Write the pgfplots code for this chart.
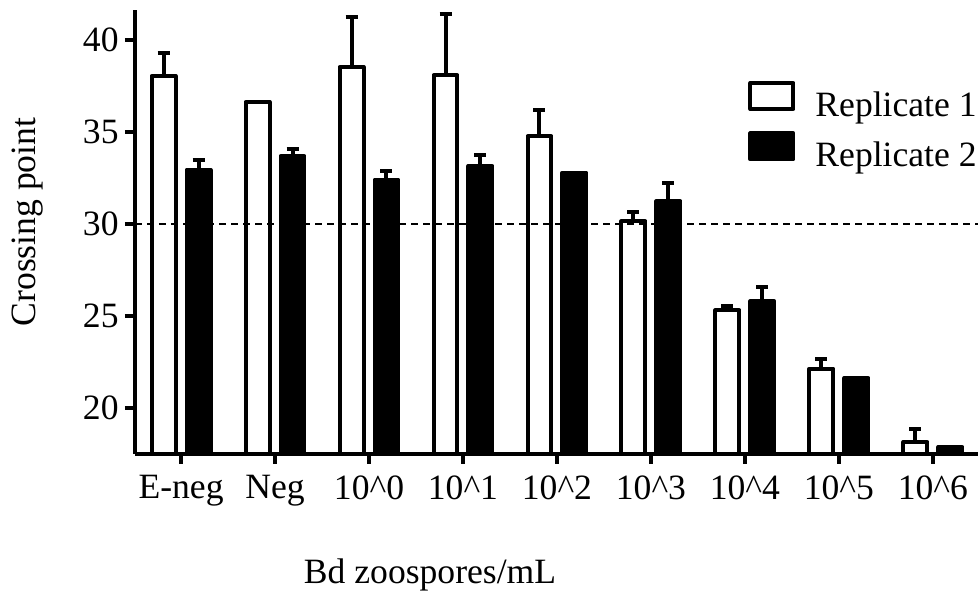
\documentclass[border=0pt]{standalone}
\usepackage{pgfplots}
\pgfplotsset{compat=1.18}
\usepackage{pgfplotstable}
\usepackage{fontspec}
\setmainfont{Liberation Serif}
\pgfplotstableread{
x r1 e1 r2 e2
0 38.04 1.24 32.95 0.53
1 36.63 0.00 33.70 0.36
2 38.53 2.70 32.41 0.49
3 38.08 3.33 33.15 0.60
4 34.77 1.43 32.79 0.00
5 30.15 0.49 31.24 1.00
6 25.31 0.23 25.80 0.76
7 22.14 0.51 21.63 0.00
8 18.15 0.69 17.88 0.00
}\datatable
\begin{document}
\begin{tikzpicture}
\useasboundingbox (-67.5pt,-72pt) rectangle (421.5pt,227pt);
\begin{axis}[
  at={(0pt,0pt)}, anchor=south west,
  scale only axis, width=421.5pt, height=222pt,
  xmin=-0.49, xmax=8.48, ymin=17.5, ymax=41.63,
  axis x line*=bottom, axis y line*=left,
  axis line style={line width=2pt, -},
  every tick/.style={black, line width=2pt},
  tick align=outside, major tick length=5pt,
  xtick={0,...,8},
  xticklabels={E-neg,Neg,10\^{}0,10\^{}1,10\^{}2,10\^{}3,10\^{}4,10\^{}5,10\^{}6},
  ytick={20,25,30,35,40},
  /pgf/number format/assume math mode=true,
  tick label style={font=\fontsize{17.8}{21}\selectfont},
  yticklabel style={inner sep=0pt, xshift=-3pt},
  xticklabel style={inner sep=0pt, yshift=-5.5pt},
  ylabel={Crossing point},
  ylabel style={at={(axis description cs:-0.1275,0.5225)}, anchor=center, font=\fontsize{17.8}{21}\selectfont},
  xlabel={Bd zoospores/mL},
  xlabel style={at={(axis description cs:0.35,-0.2725)}, anchor=center, font=\fontsize{17.8}{21}\selectfont},
  legend style={at={(axis description cs:1,0.85)}, anchor=north east, xshift=2.5pt, draw=none, fill=none,
    font=\fontsize{17.8}{21}\selectfont, row sep=6pt,
    nodes={inner sep=0pt}},
  legend cell align=left,
  legend image code/.code={\draw[#1, line width=2pt, line join=round] (0pt,-1.7pt) rectangle (21.5pt,11.3pt);},
  clip=true,
]
\addplot[sharp plot, black, line width=1pt, dash pattern=on 3.5pt off 2.5pt, forget plot] coordinates {(-0.49,30) (8.48,30)};
\addplot[ybar, bar width=0.255, bar shift=0pt, draw=black, fill=none, line width=2pt, line join=round,
  error bars/.cd, y dir=plus, y explicit,
  error bar style={line width=2pt, black},
  error mark options={line width=2pt, mark size=3pt, black, rotate=90}]
  table[x expr=\thisrow{x}-0.186, y=r1, y error=e1] {\datatable};
\addlegendentry{\hspace{10pt}Replicate 1}
\addplot[ybar, bar width=0.255, bar shift=0pt, draw=black, fill=black, line width=2pt, line join=round,
  error bars/.cd, y dir=plus, y explicit,
  error bar style={line width=2pt, black},
  error mark options={line width=2pt, mark size=3pt, black, rotate=90}]
  table[x expr=\thisrow{x}+0.186, y=r2, y error=e2] {\datatable};
\addlegendentry{\hspace{10pt}Replicate 2}
\end{axis}
\end{tikzpicture}
\end{document}
